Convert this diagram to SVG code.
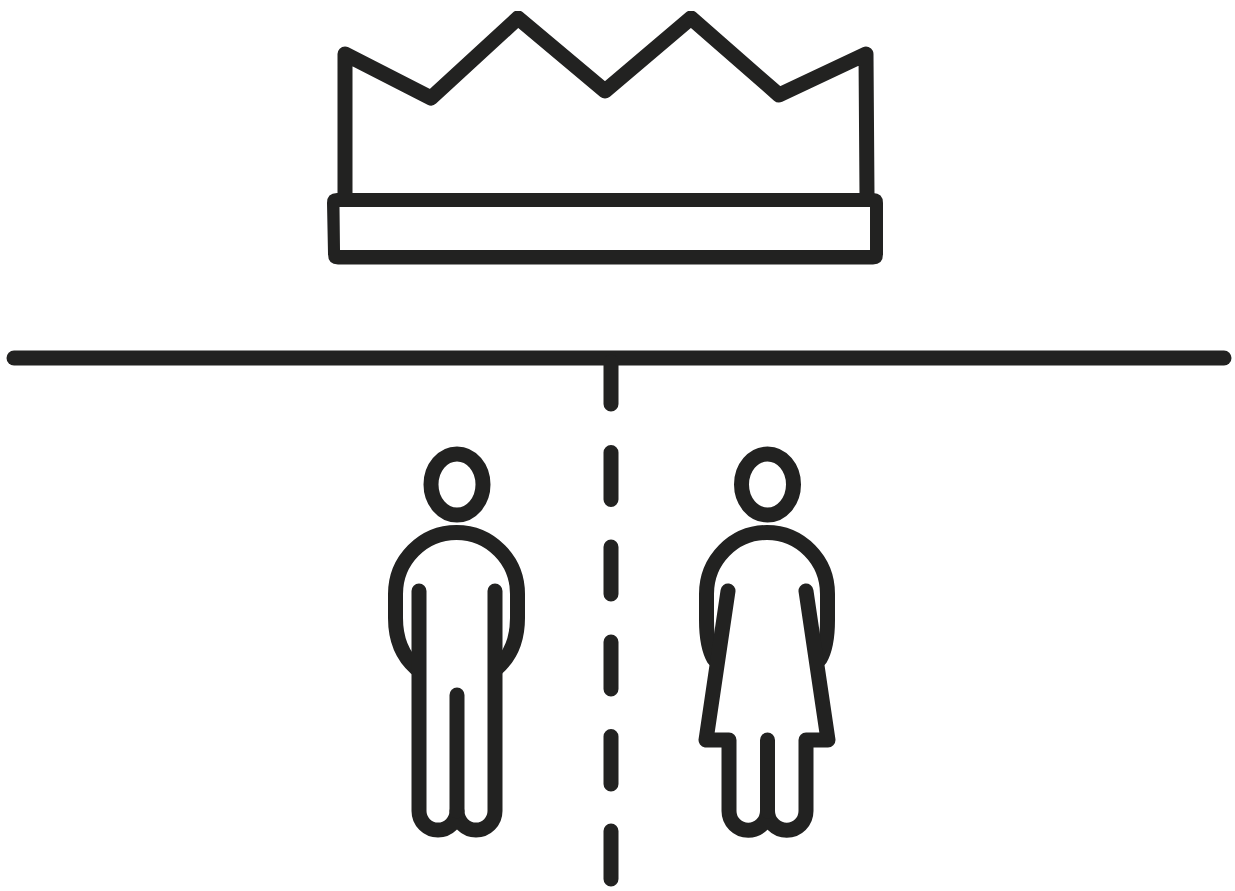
<svg xmlns="http://www.w3.org/2000/svg" width="1235" height="891" viewBox="0 0 1235 891">
<style>.s{fill:none;stroke:#222221;stroke-width:15;stroke-linecap:round;stroke-linejoin:round}</style>
<defs><clipPath id="top"><rect x="300" y="11" width="620" height="270"/></clipPath></defs>
<rect width="1235" height="891" fill="#fff"/>
<g id="crown">
<path class="s" clip-path="url(#top)" d="M345 196V54L431 98L518 18L605 91L691 18L779 95L866 54L867 196"/>
<path fill="#222221" fill-rule="evenodd" d="M337 193H873Q883 193 883 203V254Q883 264.500 873 264.500H338Q328 264.500 328 254L327 203Q327 193 337 193ZM339.500 207L340 250H870V207Z"/>
</g>
<g id="divider" class="s">
<path d="M14 358H1224"/>
<path d="M611 362V404M611 452.500V499.500M611 547V594M611 642V689M611 736.500V784M611 831V879"/>
</g>
<g id="man" class="s">
<ellipse cx="457" cy="484.500" rx="26" ry="30.500"/>
<path d="M416 668Q395.500 650 395.500 618V594A61 61.500 0 0 1 517.500 594V618Q517.500 650 497 668"/>
<path d="M419 591V811A19 19 0 0 0 457 811A19 19 0 0 0 495 811V591"/>
<path d="M457 695V811"/>
</g>
<g id="woman" class="s">
<ellipse cx="767.500" cy="484.500" rx="26" ry="30.500"/>
<path d="M714 659Q706.500 646 706.500 620V594A60.500 61.500 0 0 1 827.500 594V620Q827.500 646 820 659"/>
<path d="M728 591L706 740H729V811A19 19 0 0 0 767.500 811A19 19 0 0 0 806 811V740H828L806 591"/>
<path d="M767.500 740V811"/>
</g>
</svg>
